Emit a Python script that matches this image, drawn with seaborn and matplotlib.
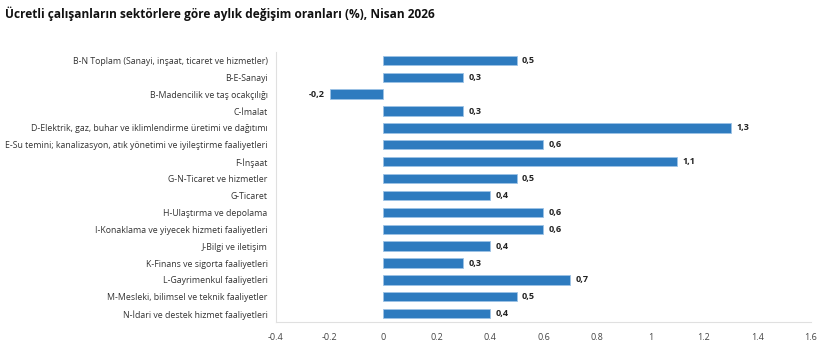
import seaborn as sns
import matplotlib.pyplot as plt
import pandas as pd

sectors = [
    'B-N Toplam (Sanayi, inşaat, ticaret ve hizmetler)',
    'B-E-Sanayi',
    'B-Madencilik ve taş ocakçılığı',
    'C-İmalat',
    'D-Elektrik, gaz, buhar ve iklimlendirme üretimi ve dağıtımı',
    'E-Su temini; kanalizasyon, atık yönetimi ve iyileştirme faaliyetleri',
    'F-İnşaat',
    'G-N-Ticaret ve hizmetler',
    'G-Ticaret',
    'H-Ulaştırma ve depolama',
    'I-Konaklama ve yiyecek hizmeti faaliyetleri',
    'J-Bilgi ve iletişim',
    'K-Finans ve sigorta faaliyetleri',
    'L-Gayrimenkul faaliyetleri',
    'M-Mesleki, bilimsel ve teknik faaliyetler',
    'N-İdari ve destek hizmet faaliyetleri',
]
changes = [0.5, 0.3, -0.2, 0.3, 1.3, 0.6, 1.1, 0.5, 0.4, 0.6, 0.6, 0.4, 0.3, 0.7, 0.5, 0.4]
x_ticks = [-0.4, -0.2, 0, 0.2, 0.4, 0.6, 0.8, 1, 1.2, 1.4, 1.6]

df = pd.DataFrame({'sector': sectors, 'change': changes})

sns.set_style('white')
plt.rcParams['font.family'] = ['Open Sans', 'DejaVu Sans']

fig = plt.figure(figsize=(8.2, 3.46), dpi=100)
ax = fig.add_axes([0.3366, 0.069, 0.6524, 0.781])

sns.barplot(data=df, x='change', y='sector', color='#2E7BBF', width=0.55,
            edgecolor='#9CC3E6', linewidth=0.6, ax=ax, saturation=1)

for i, v in enumerate(changes):
    label = f'{v:.1f}'.replace('.', ',')
    if v >= 0:
        ax.text(v + 0.02, i, label, va='center', ha='left', fontsize=6.5,
                fontweight='bold', color='#222222')
    else:
        ax.text(v - 0.02, i, label, va='center', ha='right', fontsize=6.5,
                fontweight='bold', color='#222222')

ax.set_xlim(-0.4, 1.6)
ax.set_ylim(len(sectors) - 0.5, -0.5)
ax.set_xticks(x_ticks)
ax.set_xticklabels([str(t) for t in x_ticks])
ax.set_xlabel('')
ax.set_ylabel('')
ax.tick_params(axis='x', labelsize=6.5, colors='#444444', length=0, pad=8)
ax.tick_params(axis='y', labelsize=6.3, colors='#333333', length=0, pad=6)

for s in ['top', 'right']:
    ax.spines[s].set_visible(False)
for s in ['left', 'bottom']:
    ax.spines[s].set_color('#E0E0E0')
    ax.spines[s].set_linewidth(0.8)

fig.text(0.006, 0.96, 'Ücretli çalışanların sektörlere göre aylık değişim oranları (%), Nisan 2026',
         fontsize=8.6, fontweight='bold', color='#111111', ha='left', va='center')

fig.savefig('out.png', dpi=100)
